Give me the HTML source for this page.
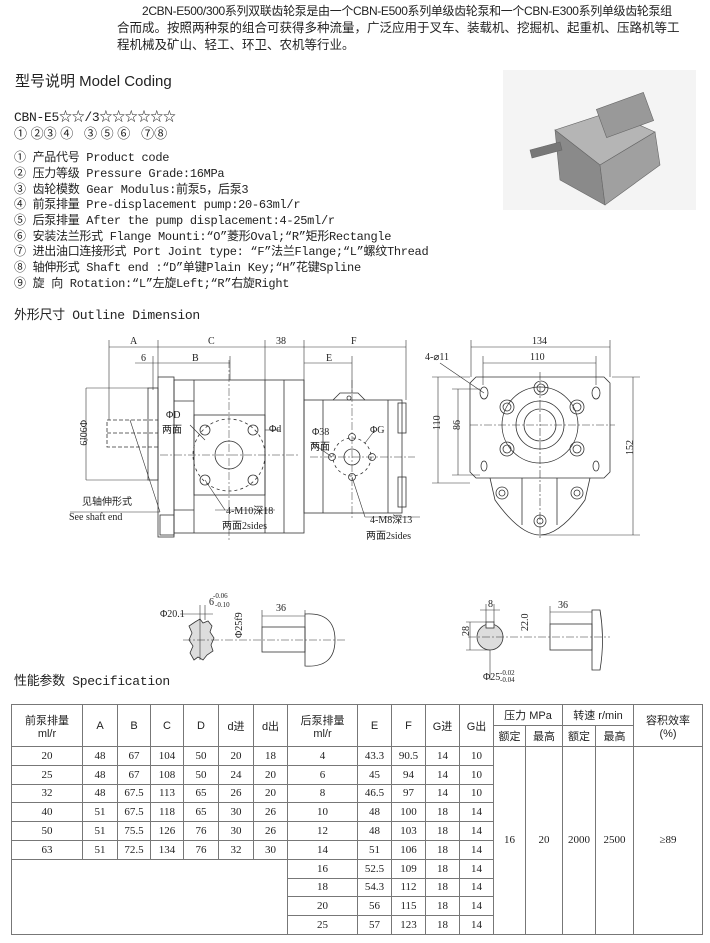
<!DOCTYPE html>
<html><head><meta charset="utf-8">
<style>
body{margin:0;background:#fff;}
#p{position:relative;width:710px;height:943px;overflow:hidden;background:#fff;font-family:"Liberation Sans","Noto Sans CJK SC",sans-serif;color:#222;}
.t{position:absolute;white-space:nowrap;font-size:13px;line-height:16px;}
.m{font-family:"Liberation Mono","Noto Sans CJK SC",monospace;font-size:12px;letter-spacing:-0.3px}
table{position:absolute;left:11px;top:704px;border-collapse:collapse;font-family:"Liberation Serif","Noto Sans CJK SC",serif;font-size:11px;}
td{border:1px solid #777;text-align:center;padding:0;height:17.8px;}
th{border:1px solid #777;font-weight:normal;font-family:"Liberation Sans","Noto Sans CJK SC",sans-serif;font-size:11px;padding:0;}
svg{position:absolute;left:0;top:0}
</style></head><body><div id="p">
<div class="t" style="left:142px;top:3px;font-size:12px;letter-spacing:-0.35px">2CBN-E500/300系列双联齿轮泵是由一个CBN-E500系列单级齿轮泵和一个CBN-E300系列单级齿轮泵组</div>
<div class="t" style="left:117px;top:20px;font-size:12.5px">合而成。按照两种泵的组合可获得多种流量，广泛应用于叉车、装载机、挖掘机、起重机、压路机等工</div>
<div class="t" style="left:117px;top:37px;font-size:12.5px">程机械及矿山、轻工、环卫、农机等行业。</div>
<div class="t" style="left:15px;top:74px;font-size:15px">型号说明 Model Coding</div>
<div class="t m" style="left:14px;top:110px;font-size:13px">CBN-E5☆☆/3☆☆☆☆☆☆</div>
<div class="t" style="left:14px;top:126px;font-size:13px">① ②③ ④&nbsp;&nbsp; ③ ⑤ ⑥&nbsp;&nbsp; ⑦⑧</div>
<div class="t m" style="left:14px;top:150px">① 产品代号 Product code</div>
<div class="t m" style="left:14px;top:166px">② 压力等级 Pressure Grade:16MPa</div>
<div class="t m" style="left:14px;top:182px">③ 齿轮模数 Gear Modulus:前泵5，后泵3</div>
<div class="t m" style="left:14px;top:197px">④ 前泵排量 Pre-displacement pump:20-63ml/r</div>
<div class="t m" style="left:14px;top:213px">⑤ 后泵排量 After the pump displacement:4-25ml/r</div>
<div class="t m" style="left:14px;top:229px">⑥ 安装法兰形式 Flange Mounti:“O”菱形Oval;“R”矩形Rectangle</div>
<div class="t m" style="left:14px;top:244px">⑦ 进出油口连接形式 Port Joint type: “F”法兰Flange;“L”螺纹Thread</div>
<div class="t m" style="left:14px;top:260px">⑧ 轴伸形式 Shaft end :“D”单键Plain Key;“H”花键Spline</div>
<div class="t m" style="left:14px;top:276px">⑨ 旋 向 Rotation:“L”左旋Left;“R”右旋Right</div>
<div class="t m" style="left:14px;top:308px;font-size:13px">外形尺寸 Outline Dimension</div>
<div class="t m" style="left:14px;top:674px;font-size:13px">性能参数 Specification</div>

<svg width="710" height="943" viewBox="0 0 710 943" font-family="Liberation Serif, Noto Sans CJK SC, serif" font-size="10" fill="none" stroke="#333" stroke-width="0.8">
<!-- photo -->
<rect x="503" y="70" width="193" height="140" fill="#f4f4f4" stroke="none"/>
<g fill="#9a9a9a" stroke="#666" stroke-width="0.6">
<path d="M555 130 L610 112 L655 132 L600 165 Z" fill="#b5b5b5"/>
<path d="M555 130 L600 165 L605 205 L560 180 Z" fill="#8a8a8a"/>
<path d="M600 165 L655 132 L660 165 L605 205 Z" fill="#a0a0a0"/>
<rect x="600" y="100" width="50" height="30" fill="#999" transform="rotate(-20 625 115)"/>
<path d="M530 150 L560 142 L562 150 L532 158 Z" fill="#777"/>
</g>
<!-- left view body -->
<g stroke="#333">
<rect x="158" y="377" width="16" height="160"/>
<rect x="148" y="388" width="10" height="92"/>
<rect x="174" y="380" width="130" height="153"/>
<line x1="194" y1="380" x2="194" y2="533"/>
<rect x="194" y="415" width="71" height="80"/>
<line x1="265" y1="380" x2="265" y2="533"/>
<line x1="284" y1="380" x2="284" y2="533"/>
<line x1="174" y1="401" x2="194" y2="401"/><line x1="174" y1="510" x2="194" y2="510"/>
<rect x="304" y="400" width="98" height="113"/>
<line x1="323" y1="400" x2="323" y2="513"/>
<line x1="388" y1="400" x2="388" y2="513"/>
<rect x="398" y="403" width="8" height="30"/><rect x="398" y="477" width="8" height="30"/>
<path d="M333 400 L340 393 L358 393 L365 400" />
<circle cx="349" cy="398" r="2"/>
<rect x="160" y="515" width="14" height="20"/>
<g stroke-dasharray="4 2"><rect x="107" y="420" width="51" height="27"/><line x1="107" y1="433" x2="158" y2="433"/></g>
<circle cx="229" cy="455" r="36" stroke-dasharray="3 3"/>
<circle cx="229" cy="455" r="14"/>
<circle cx="205" cy="430" r="5"/><circle cx="253" cy="430" r="5"/><circle cx="205" cy="480" r="5"/><circle cx="253" cy="480" r="5"/>
<circle cx="352" cy="457" r="8"/><circle cx="352" cy="437" r="3.5"/><circle cx="352" cy="477" r="3.5"/><circle cx="332" cy="457" r="3.5"/><circle cx="372" cy="457" r="3.5"/>
<circle cx="352" cy="457" r="19" stroke-dasharray="3 3"/>
</g>
<g stroke-dasharray="8 2 2 2" stroke-width="0.5">
<line x1="229" y1="360" x2="229" y2="540"/><line x1="352" y1="380" x2="352" y2="520"/>
<line x1="160" y1="455" x2="300" y2="455"/><line x1="310" y1="457" x2="415" y2="457"/>
</g>
<!-- dims left -->
<g stroke-width="0.6">
<line x1="109" y1="347" x2="406" y2="347"/>
<line x1="135" y1="363" x2="230" y2="363"/>
<line x1="304" y1="363" x2="352" y2="363"/>
<line x1="109" y1="340" x2="109" y2="420"/><line x1="158" y1="340" x2="158" y2="377"/><line x1="265" y1="340" x2="265" y2="380"/>
<line x1="304" y1="340" x2="304" y2="400"/><line x1="406" y1="340" x2="406" y2="400"/>
<line x1="153" y1="356" x2="153" y2="390"/><line x1="230" y1="356" x2="230" y2="380"/><line x1="352" y1="356" x2="352" y2="393"/>
<line x1="86" y1="388" x2="148" y2="388"/><line x1="86" y1="480" x2="148" y2="480"/>
<line x1="86" y1="388" x2="86" y2="480"/>
<line x1="130" y1="420" x2="160" y2="512"/><line x1="70" y1="512" x2="160" y2="512"/>
<line x1="205" y1="480" x2="225" y2="510"/><line x1="215" y1="510" x2="275" y2="510"/>
<line x1="352" y1="477" x2="365" y2="517"/><line x1="365" y1="517" x2="420" y2="517"/>
<line x1="190" y1="425" x2="205" y2="440"/><line x1="265" y1="430" x2="280" y2="430"/>
<line x1="312" y1="443" x2="332" y2="457"/><line x1="365" y1="443" x2="375" y2="430"/>
</g>
<g fill="#222" stroke="none" font-size="10">
<text x="130" y="344">A</text><text x="208" y="344">C</text><text x="276" y="344">38</text><text x="351" y="344">F</text>
<text x="141" y="361">6</text><text x="192" y="361">B</text><text x="326" y="361">E</text>
<text x="166" y="418">ΦD</text><text x="162" y="433" font-size="10">两面</text><text x="269" y="432">Φd</text>
<text x="312" y="435">Φ38</text><text x="310" y="450">两面</text><text x="370" y="433">ΦG</text>
<text x="226" y="514" font-size="10">4-M10深18</text><text x="222" y="529" font-size="10">两面2sides</text>
<text x="370" y="523" font-size="10">4-M8深13</text><text x="366" y="539" font-size="10">两面2sides</text>
<text x="82" y="505" font-size="10">见轴伸形式</text><text x="69" y="520" font-size="10">See shaft end</text>
<text x="80" y="420" transform="rotate(90 80 420)" font-size="10">Φ90f9</text>
</g>
<!-- right view -->
<g stroke="#333">
<path d="M476 377 L604 377 L610 383 L610 472 L604 478 L476 478 L470 472 L470 383 Z"/>
<path d="M490 478 L495 500 Q520 535 540 535 Q560 535 585 500 L590 478"/>
<line x1="522" y1="478" x2="522" y2="525"/><line x1="557" y1="478" x2="557" y2="525"/>
<circle cx="540" cy="425" r="38"/><circle cx="540" cy="425" r="24"/><circle cx="540" cy="425" r="16"/>
<g><circle cx="541" cy="388" r="7"/><circle cx="541" cy="388" r="4"/>
<circle cx="507" cy="407" r="7"/><circle cx="507" cy="407" r="4"/>
<circle cx="577" cy="407" r="7"/><circle cx="577" cy="407" r="4"/>
<circle cx="507" cy="449" r="7"/><circle cx="507" cy="449" r="4"/>
<circle cx="577" cy="449" r="7"/><circle cx="577" cy="449" r="4"/>
<circle cx="502" cy="493" r="6"/><circle cx="502" cy="493" r="3"/>
<circle cx="577" cy="493" r="6"/><circle cx="577" cy="493" r="3"/>
<circle cx="540" cy="521" r="6"/><circle cx="540" cy="521" r="3"/></g>
<ellipse cx="484" cy="393" rx="4" ry="6"/><ellipse cx="596" cy="393" rx="4" ry="6"/>
<ellipse cx="484" cy="466" rx="3" ry="5"/><ellipse cx="596" cy="466" rx="3" ry="5"/>
</g>
<g stroke-width="0.6">
<line x1="471" y1="347" x2="610" y2="347"/><line x1="471" y1="340" x2="471" y2="377"/><line x1="610" y1="340" x2="610" y2="377"/>
<line x1="483" y1="363" x2="596" y2="363"/><line x1="483" y1="356" x2="483" y2="385"/><line x1="596" y1="356" x2="596" y2="385"/>
<line x1="438" y1="377" x2="438" y2="483"/><line x1="432" y1="377" x2="470" y2="377"/><line x1="432" y1="483" x2="470" y2="483"/>
<line x1="458" y1="389" x2="458" y2="475"/><line x1="452" y1="389" x2="480" y2="389"/><line x1="452" y1="475" x2="480" y2="475"/>
<line x1="633" y1="377" x2="633" y2="535"/><line x1="612" y1="377" x2="640" y2="377"/><line x1="540" y1="535" x2="640" y2="535"/>
<line x1="440" y1="363" x2="484" y2="393"/>
<line x1="470" y1="425" x2="615" y2="425" stroke-dasharray="8 2 2 2"/><line x1="540" y1="372" x2="540" y2="540" stroke-dasharray="8 2 2 2"/>
</g>
<g fill="#222" stroke="none">
<text x="532" y="344">134</text><text x="530" y="360">110</text><text x="425" y="360">4-⌀11</text>
<text x="434" y="436" transform="rotate(-90 434 430)">110</text><text x="454" y="436" transform="rotate(-90 454 430)">86</text>
<text x="628" y="460" transform="rotate(-90 628 455)">152</text>
</g>
<!-- shaft details -->
<g stroke="#333">
<path d="M195 622 L200 619 L203 623 L208 621 L212 626 L210 632 L214 638 L211 645 L213 651 L207 655 L203 660 L198 657 L194 660 L190 653 L193 646 L189 640 L192 633 L189 626 Z" fill="#ddd"/>
<rect x="262" y="627" width="43" height="25"/>
<path d="M305 614 Q335 612 335 640 Q335 668 305 666 Z"/>
<circle cx="490" cy="637" r="13" fill="#ddd"/>
<rect x="486" y="622" width="8" height="6" fill="#fff"/>
<rect x="550" y="624" width="42" height="26"/>
<path d="M592 610 L600 610 Q605 640 600 670 L592 670 Z"/>
</g>
<g stroke-width="0.6">
<line x1="180" y1="614" x2="213" y2="614"/><line x1="200" y1="605" x2="200" y2="660"/><line x1="205" y1="605" x2="205" y2="620"/>
<line x1="262" y1="616" x2="305" y2="616"/><line x1="262" y1="610" x2="262" y2="627"/><line x1="305" y1="610" x2="305" y2="614"/>
<line x1="183" y1="640" x2="345" y2="640" stroke-dasharray="8 2 2 2"/>
<line x1="468" y1="637" x2="610" y2="637" stroke-dasharray="8 2 2 2"/>
<line x1="480" y1="610" x2="500" y2="610"/><line x1="486" y1="604" x2="486" y2="622"/><line x1="494" y1="604" x2="494" y2="622"/>
<line x1="550" y1="612" x2="592" y2="612"/><line x1="550" y1="606" x2="550" y2="624"/>
<line x1="466" y1="622" x2="486" y2="622"/><line x1="466" y1="650" x2="490" y2="650"/><line x1="470" y1="622" x2="470" y2="650"/>
<line x1="490" y1="650" x2="490" y2="680"/>
</g>
<g fill="#222" stroke="none" font-size="10">
<text x="213" y="598" font-size="7">-0.06</text><text x="209" y="605">6</text><text x="215" y="607" font-size="7">-0.10</text>
<text x="160" y="617">Φ20.1</text><text x="276" y="611">36</text>
<text x="228" y="652" transform="rotate(-90 228 638)">Φ25f9</text>
<text x="488" y="607">8</text><text x="558" y="608">36</text>
<text x="463" y="642" transform="rotate(-90 463 636)">28</text>
<text x="525" y="644" transform="rotate(-90 520 636)">22.0</text>
<text x="483" y="680">Φ25</text><text x="500" y="675" font-size="7">-0.02</text><text x="500" y="682" font-size="7">-0.04</text>
</g>
</svg>

<table>
<tr style="height:21px"><th rowspan="2" style="width:70px">前泵排量<br>ml/r</th><th rowspan="2" style="width:34px">A</th><th rowspan="2" style="width:32px">B</th><th rowspan="2" style="width:32px">C</th><th rowspan="2" style="width:34px">D</th><th rowspan="2" style="width:34px">d进</th><th rowspan="2" style="width:33px">d出</th><th rowspan="2" style="width:69px">后泵排量<br>ml/r</th><th rowspan="2" style="width:33px">E</th><th rowspan="2" style="width:33px">F</th><th rowspan="2" style="width:33px">G进</th><th rowspan="2" style="width:33px">G出</th><th colspan="2">压力 MPa</th><th colspan="2">转速 r/min</th><th rowspan="2" style="width:68px">容积效率<br>(%)</th></tr>
<tr style="height:21px"><th style="width:31px">额定</th><th style="width:36px">最高</th><th style="width:32px">额定</th><th style="width:37px">最高</th></tr>
<tr><td>20</td><td>48</td><td>67</td><td>104</td><td>50</td><td>20</td><td>18</td><td>4</td><td>43.3</td><td>90.5</td><td>14</td><td>10</td><td rowspan="10">16</td><td rowspan="10">20</td><td rowspan="10">2000</td><td rowspan="10">2500</td><td rowspan="10">≥89</td></tr>
<tr><td>25</td><td>48</td><td>67</td><td>108</td><td>50</td><td>24</td><td>20</td><td>6</td><td>45</td><td>94</td><td>14</td><td>10</td></tr>
<tr><td>32</td><td>48</td><td>67.5</td><td>113</td><td>65</td><td>26</td><td>20</td><td>8</td><td>46.5</td><td>97</td><td>14</td><td>10</td></tr>
<tr><td>40</td><td>51</td><td>67.5</td><td>118</td><td>65</td><td>30</td><td>26</td><td>10</td><td>48</td><td>100</td><td>18</td><td>14</td></tr>
<tr><td>50</td><td>51</td><td>75.5</td><td>126</td><td>76</td><td>30</td><td>26</td><td>12</td><td>48</td><td>103</td><td>18</td><td>14</td></tr>
<tr><td>63</td><td>51</td><td>72.5</td><td>134</td><td>76</td><td>32</td><td>30</td><td>14</td><td>51</td><td>106</td><td>18</td><td>14</td></tr>
<tr><td colspan="7" rowspan="4" style="border-bottom:1px solid #777"></td><td>16</td><td>52.5</td><td>109</td><td>18</td><td>14</td></tr>
<tr><td>18</td><td>54.3</td><td>112</td><td>18</td><td>14</td></tr>
<tr><td>20</td><td>56</td><td>115</td><td>18</td><td>14</td></tr>
<tr><td>25</td><td>57</td><td>123</td><td>18</td><td>14</td></tr>
</table>
</div></body></html>
